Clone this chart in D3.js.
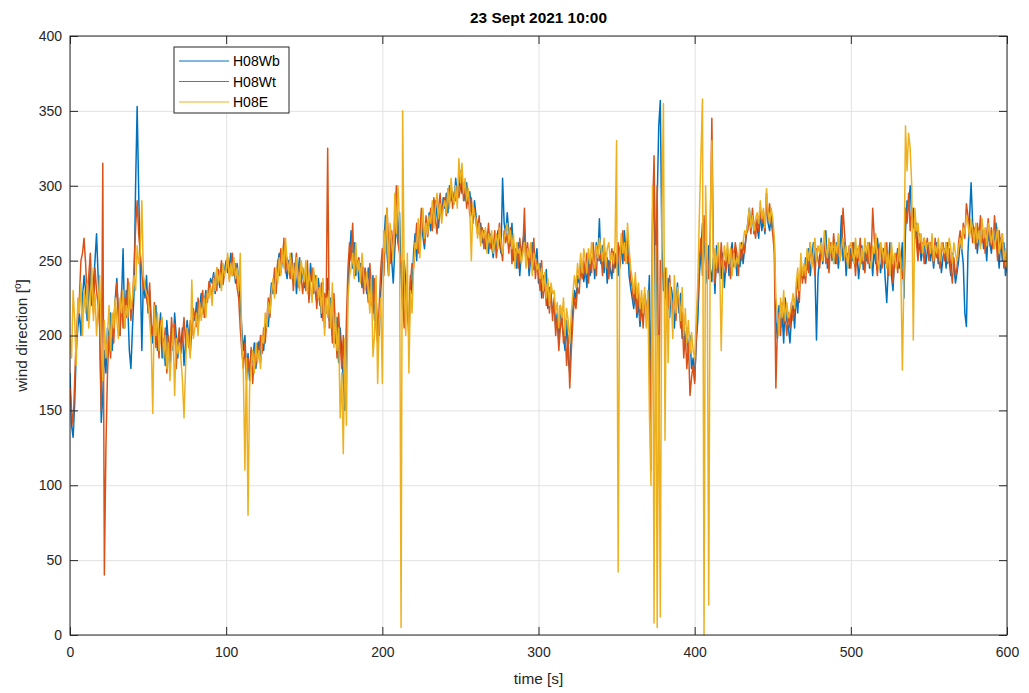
<!DOCTYPE html>
<html>
<head>
<meta charset="utf-8">
<script src="https://cdn.jsdelivr.net/npm/d3@7"></script>
<style>
  html, body { margin: 0; padding: 0; background: #ffffff; }
  svg { display: block; font-family: "Liberation Sans", Arial, Helvetica, sans-serif; }
</style>
</head>
<body>
<svg id="chart" width="1029" height="693"></svg>
<script>
// Wind direction [deg], one sample per second, t = 0 .. 600 s
const seriesNames = ["H08Wb", "H08Wt", "H08E"];
const seriesColors = ["#0072BD", "#D95319", "#EDB120"];
const xTicks = [0, 100, 200, 300, 400, 500, 600];
const yTicks = [0, 50, 100, 150, 200, 250, 300, 350, 400];

const H08Wb = [
  175,140,132,155,190,205,215,200,225,240,
  230,210,225,245,220,235,250,268,240,215,
  142,160,190,175,205,198,215,190,208,225,
  238,212,200,225,258,205,230,220,190,178,
  205,228,300,353,295,245,190,238,225,240,
  215,230,205,195,210,220,190,200,215,185,
  198,180,210,195,175,205,190,215,200,185,
  200,192,205,180,195,210,200,188,205,212,
  210,222,205,218,228,215,222,230,225,232,
  238,235,242,228,245,238,232,248,240,244,
  250,242,246,255,240,245,235,248,238,222,
  205,190,200,175,188,170,190,182,195,178,
  186,196,182,200,190,205,212,206,222,235,
  228,240,232,248,255,242,250,262,245,238,
  250,244,255,236,248,228,242,252,235,245,
  232,246,238,225,248,236,242,230,222,238,
  228,212,235,205,222,238,210,225,200,215,
  195,212,182,205,190,170,150,195,230,252,
  270,245,262,240,250,236,248,232,245,238,
  228,245,235,220,240,210,225,205,200,230,
  248,262,280,255,240,268,250,235,258,275,
  262,282,240,218,250,236,215,205,240,228,
  255,268,250,272,262,280,266,258,275,270,
  282,270,285,275,290,280,272,288,278,292,
  285,295,282,300,290,296,288,305,292,298,
  310,295,300,290,302,288,296,285,278,290,
  280,272,268,275,262,270,258,266,255,268,
  260,252,265,258,270,262,255,305,275,268,
  282,268,260,275,250,258,245,262,240,255,
  262,270,248,258,240,252,262,244,250,258,
  235,248,225,240,230,244,218,232,226,215,
  222,205,215,195,220,208,200,190,210,185,
  175,200,218,230,224,240,235,250,245,236,
  245,232,252,240,248,255,238,262,250,278,
  248,260,242,255,235,250,244,238,256,245,
  252,240,258,262,248,270,255,265,240,232,
  225,218,230,212,222,206,218,210,228,220,
  215,240,150,270,310,200,290,340,357,260,
  230,245,220,238,212,232,225,205,222,235,
  215,228,198,210,192,205,188,200,178,185,
  170,195,210,240,255,275,262,248,235,260,
  245,236,252,228,260,242,250,238,255,232,
  248,258,240,255,262,246,258,240,252,246,
  262,248,258,266,275,285,272,280,268,276,
  272,265,282,270,278,268,295,275,270,280,
  272,262,210,198,220,205,215,195,225,210,
  206,195,212,220,205,228,215,235,240,245,
  238,252,244,258,240,250,262,245,197,240,
  252,265,248,258,270,245,255,262,250,258,
  248,262,245,258,280,250,262,240,255,245,
  258,250,262,246,255,238,252,260,244,256,
  250,262,245,255,240,258,248,265,255,242,
  250,258,238,222,245,262,240,230,252,248,
  258,245,250,262,225,270,290,285,300,278,
  285,265,275,255,262,250,258,265,248,256,
  262,250,258,245,255,262,248,256,242,252,
  258,245,262,250,240,255,248,235,242,250,
  262,258,248,215,206,255,278,302,275,268,
  270,255,268,260,275,258,265,250,270,262,
  255,268,262,275,258,245,265,250,262,240,
  248
];

const H08Wt = [
  165,150,140,170,200,215,225,250,255,265,
  248,225,240,255,232,215,245,230,220,205,
  150,315,40,125,175,200,185,210,195,220,
  235,215,200,230,205,225,212,238,228,210,
  222,245,272,290,268,255,242,230,235,225,
  218,235,208,200,222,192,205,185,210,198,
  190,205,175,200,185,212,196,208,178,195,
  205,188,198,212,195,205,192,210,200,218,
  212,206,225,215,220,230,212,228,222,236,
  232,226,240,235,230,244,238,250,234,242,
  245,252,238,246,255,240,248,232,225,205,
  190,178,195,170,185,175,192,168,188,180,
  195,185,200,188,205,195,210,225,212,230,
  232,245,228,250,240,258,248,265,242,252,
  245,238,252,230,245,255,232,248,240,228,
  240,230,250,222,238,245,228,240,218,232,
  220,235,210,228,215,325,205,218,195,228,
  205,185,215,195,178,200,165,210,245,262,
  250,275,240,255,245,252,238,250,228,245,
  235,222,248,232,215,238,205,195,220,245,
  258,240,272,285,262,248,270,255,280,300,
  262,255,248,225,205,232,222,198,235,248,
  245,260,275,255,268,285,272,262,280,266,
  275,285,270,292,278,268,285,295,280,288,
  292,280,298,288,302,285,295,290,300,292,
  298,308,290,302,285,295,280,292,275,285,
  275,268,280,262,272,258,270,262,275,258,
  265,258,270,252,262,275,258,250,270,262,
  268,255,272,248,262,252,258,245,265,252,
  258,285,250,262,245,255,248,265,238,250,
  242,230,250,225,238,220,235,215,230,210,
  225,200,212,190,205,215,195,205,180,200,
  165,190,210,225,218,232,228,245,238,250,
  240,255,235,250,242,262,248,240,258,250,
  255,240,262,245,252,238,250,258,242,255,
  248,262,245,255,270,250,262,248,255,238,
  232,222,235,215,228,210,222,205,225,215,
  225,210,110,280,320,235,300,135,250,240,
  240,225,232,218,240,222,215,230,210,228,
  222,205,215,185,200,178,195,160,172,180,
  168,200,225,250,265,240,280,255,245,238,
  270,345,258,235,248,255,240,262,245,250,
  242,255,248,238,258,250,262,255,240,258,
  250,262,255,268,270,280,268,285,272,265,
  278,270,285,275,282,270,292,278,288,275,
  268,255,165,205,215,200,222,208,212,200,
  215,205,222,210,218,228,238,222,248,235,
  245,235,250,242,262,248,255,240,258,250,
  245,258,250,265,248,255,242,262,252,268,
  255,248,262,250,258,285,268,252,248,260,
  245,262,255,240,258,250,265,248,255,242,
  258,248,262,250,285,265,252,240,258,262,
  245,255,248,262,240,252,258,235,248,255,
  242,258,250,238,245,285,275,295,270,285,
  272,280,262,250,268,255,262,248,258,265,
  250,262,255,248,265,252,258,245,255,262,
  250,262,248,258,245,235,252,240,245,262,
  270,258,275,265,288,280,268,275,262,272,
  258,275,265,280,262,270,255,268,278,260,
  272,258,280,265,250,270,258,268,245,255,
  250
];

const H08E = [
  200,185,230,210,180,225,215,235,200,230,
  215,235,205,222,245,210,228,200,218,240,
  195,170,210,185,200,220,190,215,205,225,
  210,198,225,215,230,205,220,212,235,218,
  225,240,230,260,248,255,290,240,232,228,
  225,210,195,148,220,200,215,190,205,212,
  185,200,178,195,170,190,205,160,198,188,
  195,185,170,145,178,205,195,185,237,198,
  205,215,200,222,210,218,225,212,230,225,
  232,220,238,230,245,235,242,230,248,240,
  244,255,236,248,240,252,238,245,230,255,
  195,175,110,185,80,165,180,190,175,195,
  182,190,178,200,195,215,205,222,215,228,
  238,225,245,235,252,240,258,245,265,250,
  242,255,238,248,235,252,240,230,250,242,
  236,250,228,242,235,222,245,230,240,225,
  232,215,238,200,225,212,230,205,235,192,
  215,190,205,145,175,121,198,140,225,240,
  245,255,238,262,242,250,235,255,240,232,
  242,230,215,238,186,200,240,168,210,225,
  168,270,255,285,240,275,262,250,295,268,
  300,275,5,350,240,200,255,175,230,215,
  245,262,258,278,252,270,285,265,275,268,
  280,275,290,272,285,295,278,288,275,285,
  290,282,298,285,305,292,288,300,285,318,
  302,315,295,305,290,298,285,250,288,280,
  278,265,275,260,270,265,272,255,268,262,
  270,255,262,268,258,272,262,255,265,270,
  275,262,270,258,268,245,262,255,258,248,
  255,262,245,258,252,262,240,255,250,244,
  248,238,245,230,242,225,238,220,235,228,
  230,215,222,205,220,212,225,200,218,210,
  195,215,228,240,232,248,238,255,242,258,
  250,242,258,248,262,250,245,260,252,265,
  258,250,265,245,258,262,250,255,248,260,
  330,42,250,268,255,262,248,275,258,245,
  238,228,242,225,235,218,230,215,232,205,
  230,150,100,300,8,260,5,200,12,280,
  355,130,245,182,235,225,198,240,215,232,
  225,210,232,200,218,195,210,188,202,190,
  185,210,235,280,320,358,0,300,250,20,
  280,330,238,258,245,262,248,190,242,260,
  250,262,248,258,240,255,245,252,248,262,
  258,262,270,268,275,285,272,280,270,278,
  282,275,290,278,285,272,298,282,275,285,
  278,265,225,215,200,225,212,230,210,222,
  212,215,220,228,218,235,245,230,255,240,
  248,240,258,250,262,245,255,265,250,260,
  255,262,250,270,258,252,265,255,262,248,
  262,255,268,250,258,265,252,260,245,258,
  262,255,248,265,252,260,245,258,250,265,
  255,262,250,245,260,255,268,250,245,262,
  258,250,262,245,255,240,262,248,255,245,
  250,262,245,177,240,340,310,335,325,300,
  197,285,270,275,262,268,255,265,258,262,
  262,255,268,250,260,255,265,250,262,258,
  255,262,250,265,258,248,262,255,250,258,
  265,258,272,268,280,275,265,278,270,262,
  275,262,270,258,278,265,272,260,275,268,
  262,270,258,265,272,255,262,268,250,258,
  245
];

const seriesValues = [H08Wb, H08Wt, H08E];

// ---- layout ----
const svg = d3.select("#chart");
const plot = { left: 70, right: 1007, top: 36, bottom: 635 };
const W = plot.right - plot.left, Hh = plot.bottom - plot.top;
const axisColor = "#262626";
const tickLen = 8;

const x = d3.scaleLinear().domain([0, 600]).range([plot.left, plot.right]);
const y = d3.scaleLinear().domain([0, 400]).range([plot.bottom, plot.top]);

svg.append("rect").attr("width", 1029).attr("height", 693).attr("fill", "#ffffff");

// grid
const grid = svg.append("g").attr("class", "grid");
grid.append("g")
  .attr("transform", `translate(0,${plot.bottom})`)
  .call(d3.axisBottom(x).tickValues(xTicks).tickSize(-Hh).tickFormat(""))
  .call(g => g.select(".domain").remove());
grid.append("g")
  .attr("transform", `translate(${plot.left},0)`)
  .call(d3.axisLeft(y).tickValues(yTicks).tickSize(-W).tickFormat(""))
  .call(g => g.select(".domain").remove());
grid.selectAll("line").attr("stroke", "#e2e2e2").attr("stroke-width", 1);

// clip to the axes box
svg.append("clipPath").attr("id", "plotClip")
  .append("rect").attr("x", plot.left).attr("y", plot.top - 1).attr("width", W).attr("height", Hh + 2);

const line = d3.line().x((d, i) => x(i)).y(d => y(d));
const lines = svg.append("g").attr("clip-path", "url(#plotClip)");
seriesValues.forEach((vals, k) => {
  lines.append("path")
    .datum(vals)
    .attr("fill", "none")
    .attr("stroke", seriesColors[k])
    .attr("stroke-width", 1.5)
    .attr("stroke-linejoin", "round")
    .attr("d", line);
});

// axes with inward ticks on all four sides
function styleAxis(g) {
  g.select(".domain").remove();
  g.selectAll(".tick line").attr("stroke", axisColor).attr("stroke-width", 1);
  g.selectAll(".tick text").attr("fill", axisColor).attr("font-size", 14);
}
svg.append("g")
  .attr("transform", `translate(0,${plot.bottom})`)
  .call(d3.axisBottom(x).tickValues(xTicks).tickSize(-tickLen).tickPadding(12).tickFormat(d3.format("d")))
  .call(styleAxis);
svg.append("g")
  .attr("transform", `translate(0,${plot.top})`)
  .call(d3.axisTop(x).tickValues(xTicks).tickSize(-tickLen).tickFormat(""))
  .call(styleAxis);
svg.append("g")
  .attr("transform", `translate(${plot.left},0)`)
  .call(d3.axisLeft(y).tickValues(yTicks).tickSize(-tickLen).tickPadding(8).tickFormat(d3.format("d")))
  .call(styleAxis);
svg.append("g")
  .attr("transform", `translate(${plot.right},0)`)
  .call(d3.axisRight(y).tickValues(yTicks).tickSize(-tickLen).tickFormat(""))
  .call(styleAxis);

svg.append("rect")
  .attr("x", plot.left).attr("y", plot.top)
  .attr("width", W).attr("height", Hh)
  .attr("fill", "none").attr("stroke", axisColor).attr("stroke-width", 1);

// title and axis labels
svg.append("text")
  .attr("x", (plot.left + plot.right) / 2).attr("y", 23)
  .attr("text-anchor", "middle").attr("font-size", 15.4).attr("font-weight", "bold")
  .attr("fill", "#000000")
  .text("23 Sept 2021 10:00");

svg.append("text")
  .attr("x", (plot.left + plot.right) / 2).attr("y", 684)
  .attr("text-anchor", "middle").attr("font-size", 15.4).attr("fill", axisColor)
  .text("time [s]");

const yl = svg.append("text")
  .attr("transform", `translate(27,${(plot.top + plot.bottom) / 2}) rotate(-90)`)
  .attr("text-anchor", "middle").attr("font-size", 15.4).attr("fill", axisColor);
yl.append("tspan").text("wind direction [");
yl.append("tspan").attr("font-size", 10).attr("dy", -6).text("o");
yl.append("tspan").attr("dy", 6).text("]");

// legend
const legend = svg.append("g").attr("transform", "translate(174,47)");
legend.append("rect")
  .attr("width", 115).attr("height", 66)
  .attr("fill", "#ffffff").attr("stroke", axisColor).attr("stroke-width", 1);
seriesNames.forEach((name, k) => {
  const ly = 14 + k * 20.5;
  legend.append("line")
    .attr("x1", 5).attr("x2", 55).attr("y1", ly).attr("y2", ly)
    .attr("stroke", seriesColors[k]).attr("stroke-width", 1);
  legend.append("text")
    .attr("x", 59).attr("y", ly + 5).attr("font-size", 14).attr("fill", "#000000")
    .text(name);
});
</script>
</body>
</html>
